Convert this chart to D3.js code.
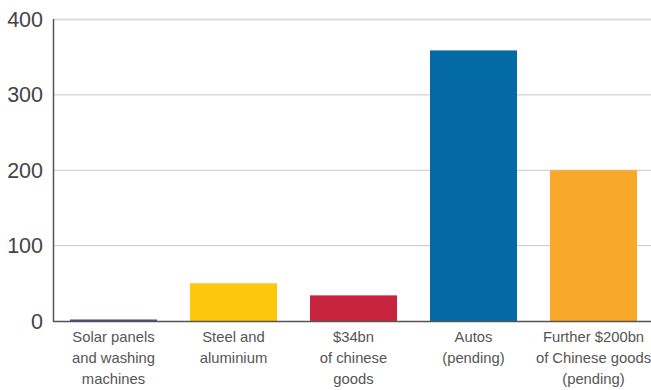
<!DOCTYPE html>
<html>
<head>
<meta charset="utf-8">
<script src="https://cdn.jsdelivr.net/npm/d3@7"></script>
<style>
  body { margin: 0; background: #fff; }
  svg { display: block; }
  .tick-label { font-family: "Liberation Sans", Arial, sans-serif; font-size: 21.5px; fill: #444; }
  .cat-label { font-family: "Liberation Sans", Arial, sans-serif; font-size: 14.8px; fill: #555; }
</style>
</head>
<body>
<svg width="651" height="390"></svg>
<script>
const categories = [
  ["Solar panels", "and washing", "machines"],
  ["Steel and", "aluminium"],
  ["$34bn", "of chinese", "goods"],
  ["Autos", "(pending)"],
  ["Further $200bn", "of Chinese goods", "(pending)"]
];
const values = [2, 50, 34, 359, 200];
const colors = ["#4b4a8e", "#fdc70c", "#c9243f", "#036aa5", "#f9a82a"];
const yTicks = [0, 100, 200, 300, 400];

const svg = d3.select("svg");
const width = 651;

const x = d3.scaleBand()
  .domain(d3.range(values.length))
  .range([53.5, 653.5])
  .paddingInner(0.275)
  .paddingOuter(0.1375);

const y = d3.scaleLinear()
  .domain([0, 400])
  .range([321, 19.5]);

// gridlines
svg.append("g")
  .selectAll("line")
  .data(yTicks.filter(d => d > 0))
  .join("line")
  .attr("x1", 53)
  .attr("x2", width)
  .attr("y1", d => y(d))
  .attr("y2", d => y(d))
  .attr("stroke", d => d === 400 ? "#dcdcdc" : "#c6c6c6")
  .attr("stroke-width", d => d === 400 ? 2 : 1);

// y tick labels
svg.append("g")
  .selectAll("text")
  .data(yTicks)
  .join("text")
  .attr("class", "tick-label")
  .attr("x", 43)
  .attr("y", d => y(d) + 7.5)
  .attr("text-anchor", "end")
  .text(d => d);

// bars
svg.append("g")
  .selectAll("rect")
  .data(values)
  .join("rect")
  .attr("x", (d, i) => x(i))
  .attr("width", x.bandwidth())
  .attr("y", d => y(d))
  .attr("height", d => y(0) - y(d))
  .attr("fill", (d, i) => colors[i]);

// axes lines
svg.append("line")
  .attr("x1", 53.5).attr("x2", 53.5)
  .attr("y1", 19).attr("y2", 322)
  .attr("stroke", "#555").attr("stroke-width", 1.5);

svg.append("line")
  .attr("x1", 53).attr("x2", width)
  .attr("y1", 321.5).attr("y2", 321.5)
  .attr("stroke", "#555").attr("stroke-width", 1.5);

// category labels
const cat = svg.append("g")
  .selectAll("text")
  .data(categories)
  .join("text")
  .attr("class", "cat-label")
  .attr("text-anchor", "middle")
  .attr("x", (d, i) => x(i) + x.bandwidth() / 2)
  .attr("y", 342);

cat.selectAll("tspan")
  .data(d => d)
  .join("tspan")
  .attr("x", function() { return d3.select(this.parentNode).attr("x"); })
  .attr("dy", (d, i) => i === 0 ? 0 : 21)
  .text(d => d);
</script>
</body>
</html>
